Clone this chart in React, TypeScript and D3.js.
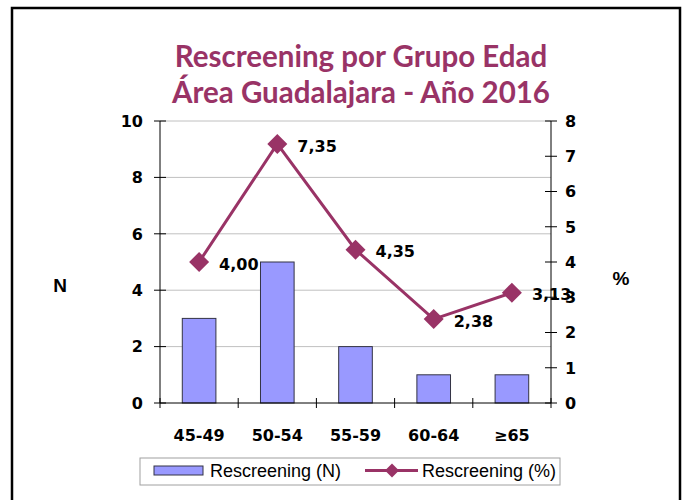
import React from "react";
import * as d3 from "d3";

const categories = ["45-49", "50-54", "55-59", "60-64", "≥65"];
const countValues = [3, 5, 2, 1, 1];
const pctValues = [4.0, 7.35, 4.35, 2.38, 3.13];
const leftTicks = [0, 2, 4, 6, 8, 10];
const rightTicks = [0, 1, 2, 3, 4, 5, 6, 7, 8];
const titleLines = ["Rescreening por Grupo Edad", "Área Guadalajara - Año 2016"];
const seriesNames = ["Rescreening (N)", "Rescreening (%)"];

const W = 686;
const H = 500;
const plot = { left: 160, right: 551, top: 121, bottom: 403 };
const LINE = "#993366";
const BAR = "#9999FF";
const tickFont = "'DejaVu Sans', Verdana, sans-serif";

export default function App() {
  const x = d3.scaleBand<string>().domain(categories).range([plot.left, plot.right]).paddingInner(0).paddingOuter(0);
  const yL = d3.scaleLinear().domain([0, 10]).range([plot.bottom, plot.top]);
  const yR = d3.scaleLinear().domain([0, 8]).range([plot.bottom, plot.top]);
  const bw = x.bandwidth() * 0.43;
  const cx = (c: string) => (x(c) as number) + x.bandwidth() / 2;
  const line = d3
    .line<number>()
    .x((_, i) => cx(categories[i]))
    .y((d) => yR(d));
  const diamond = (px: number, py: number, r: number) =>
    `M${px},${py - r}L${px + r},${py}L${px},${py + r}L${px - r},${py}Z`;
  const fmt = (v: number) => v.toFixed(2).replace(".", ",");

  return (
    <svg width={W} height={H} style={{ position: "absolute", left: 0, top: 0, background: "#fff" }}>
      <rect x={12} y={8} width={668} height={H} fill="#fff" stroke="#000" strokeWidth={2.5} />
      {titleLines.map((t, i) => (
        <text
          key={t}
          x={361}
          y={67 + i * 36}
          textAnchor="middle"
          fill={LINE}
          fontFamily="Lato, 'Open Sans', sans-serif"
          fontWeight="bold"
          fontSize={29.5}
        >
          {t}
        </text>
      ))}
      {/* gridlines */}
      {leftTicks.slice(1).map((t) => (
        <line key={"g" + t} x1={plot.left} x2={plot.right} y1={yL(t)} y2={yL(t)} stroke="#c0c0c0" strokeWidth={1} />
      ))}
      {/* bars */}
      {categories.map((c, i) => (
        <rect
          key={c}
          x={cx(c) - bw / 2}
          y={yL(countValues[i])}
          width={bw}
          height={yL(0) - yL(countValues[i])}
          fill={BAR}
          stroke="#333344"
          strokeWidth={1}
        />
      ))}
      {/* left axis */}
      <line x1={plot.left} x2={plot.left} y1={plot.top} y2={plot.bottom} stroke="#000" strokeWidth={1} />
      {leftTicks.map((t) => (
        <g key={"l" + t}>
          <line x1={plot.left - 6} x2={plot.left + 6} y1={yL(t)} y2={yL(t)} stroke="#000" strokeWidth={1} />
          <text x={143} y={yL(t)} dy="0.36em" textAnchor="end" fontFamily={tickFont} fontWeight="bold" fontSize={16}>
            {t}
          </text>
        </g>
      ))}
      {/* right axis */}
      <line x1={plot.right} x2={plot.right} y1={plot.top} y2={plot.bottom} stroke="#000" strokeWidth={1} />
      {rightTicks.map((t) => (
        <g key={"r" + t}>
          <line x1={plot.right - 6} x2={plot.right + 6} y1={yR(t)} y2={yR(t)} stroke="#000" strokeWidth={1} />
          <text x={565} y={yR(t)} dy="0.36em" textAnchor="start" fontFamily={tickFont} fontWeight="bold" fontSize={16}>
            {t}
          </text>
        </g>
      ))}
      {/* bottom axis */}
      <line x1={plot.left} x2={plot.right} y1={plot.bottom} y2={plot.bottom} stroke="#000" strokeWidth={1} />
      {categories.concat(["end"]).map((c, i) => {
        const px = plot.left + i * x.bandwidth();
        return <line key={"b" + i} x1={px} x2={px} y1={plot.bottom - 5} y2={plot.bottom + 5} stroke="#000" strokeWidth={1} />;
      })}
      {categories.map((c) => (
        <text key={"xl" + c} x={cx(c)} y={441} textAnchor="middle" fontFamily={tickFont} fontWeight="bold" fontSize={16}>
          {c}
        </text>
      ))}
      {/* axis titles */}
      <text x={60} y={292} textAnchor="middle" fontFamily="'Liberation Sans', Arial, sans-serif" fontWeight="bold" fontSize={19}>
        N
      </text>
      <text x={621} y={285} textAnchor="middle" fontFamily="'Liberation Sans', Arial, sans-serif" fontWeight="bold" fontSize={19}>
        %
      </text>
      {/* line series */}
      <path d={line(pctValues) as string} fill="none" stroke={LINE} strokeWidth={3} />
      {pctValues.map((v, i) => (
        <path key={"m" + i} d={diamond(cx(categories[i]), yR(v), 10)} fill={LINE} />
      ))}
      {pctValues.map((v, i) => (
        <text
          key={"dl" + i}
          x={cx(categories[i]) + 20}
          y={yR(v) + 2}
          dy="0.36em"
          fontFamily={tickFont}
          fontWeight="bold"
          fontSize={16}
        >
          {fmt(v)}
        </text>
      ))}
      {/* legend */}
      <rect x={140} y={458} width={420} height={27} fill="#fff" stroke="#a0a0a0" strokeWidth={1} />
      <rect x={154} y={466} width={49} height={9} fill={BAR} stroke="#333344" strokeWidth={1} />
      <text x={210} y={477} fontFamily="'Liberation Sans', Arial, sans-serif" fontSize={18}>
        {seriesNames[0]}
      </text>
      <line x1={365} x2={418} y1={470.5} y2={470.5} stroke={LINE} strokeWidth={3} />
      <path d={diamond(392, 470.5, 7)} fill={LINE} />
      <text x={422} y={477} fontFamily="'Liberation Sans', Arial, sans-serif" fontSize={18}>
        {seriesNames[1]}
      </text>
    </svg>
  );
}
